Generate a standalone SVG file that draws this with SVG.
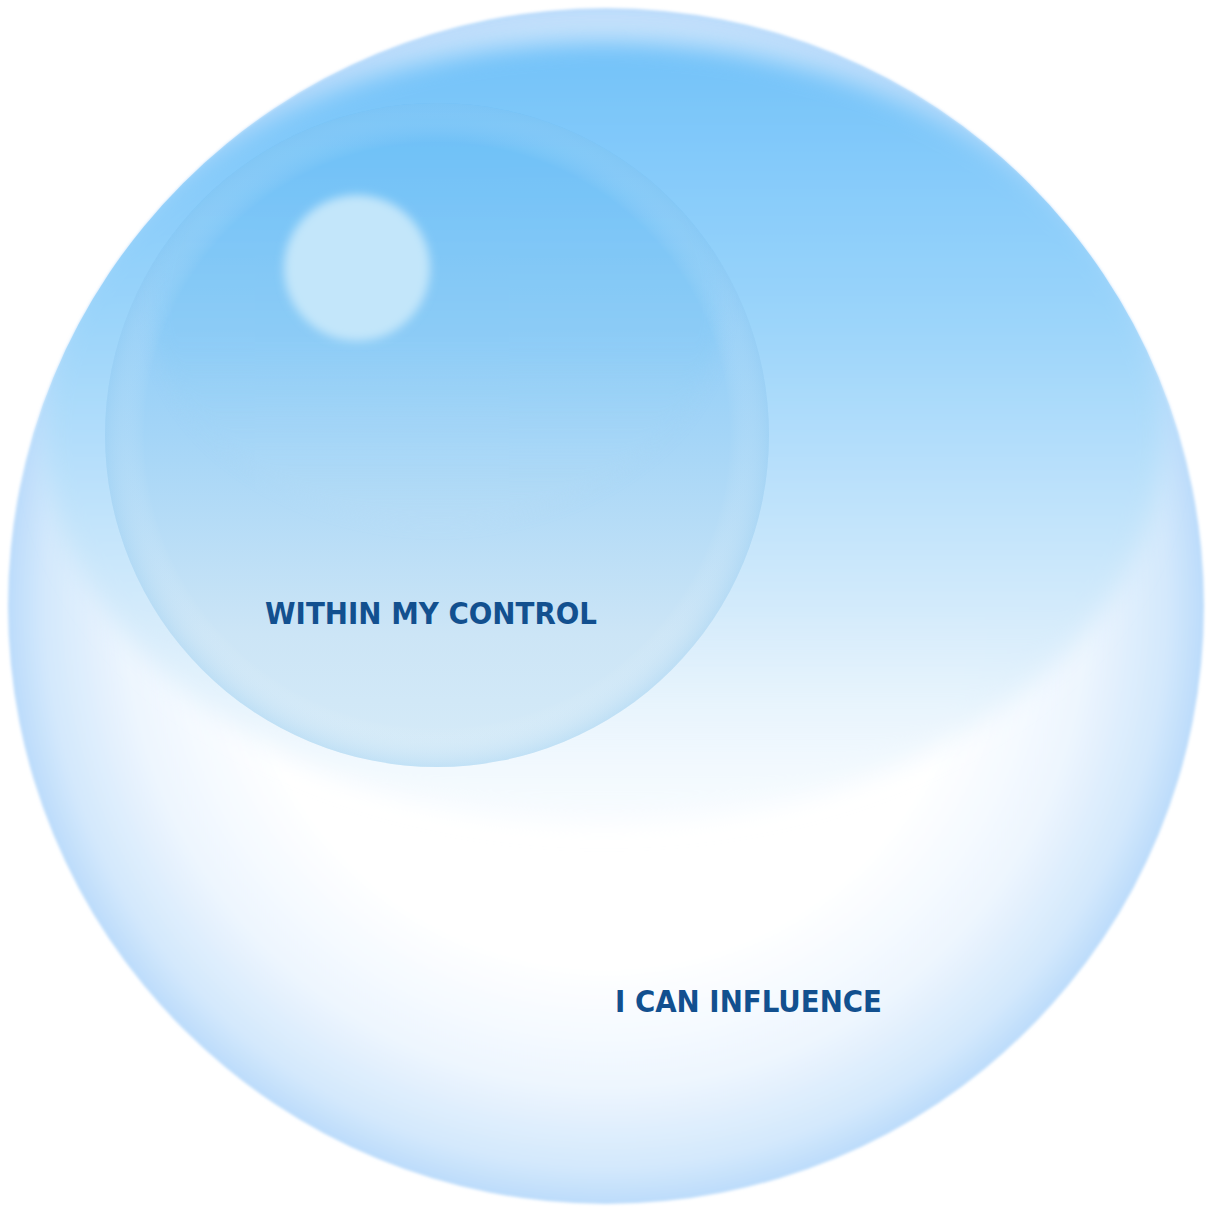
<svg xmlns="http://www.w3.org/2000/svg" width="1207" height="1208" viewBox="0 0 1207 1208">
  <defs>
    <radialGradient id="outerFill" cx="0.5" cy="0.5" r="0.5">
      <stop offset="0" stop-color="#ffffff"/>
      <stop offset="0.6" stop-color="#ffffff"/>
      <stop offset="0.8" stop-color="#eef6fe"/>
      <stop offset="0.94" stop-color="#d3e8fc"/>
      <stop offset="1" stop-color="#bcdcfb"/>
    </radialGradient>
    <linearGradient id="outerGlare" x1="0" y1="0" x2="0" y2="1">
      <stop offset="0" stop-color="#72c2f9"/>
      <stop offset="0.35" stop-color="#9ad4fa"/>
      <stop offset="0.72" stop-color="#d2eafb"/>
      <stop offset="1" stop-color="#f2f9fe" stop-opacity="0.5"/>
    </linearGradient>
    <linearGradient id="innerFill" x1="0" y1="0" x2="0" y2="1">
      <stop offset="0" stop-color="#6cbff8"/>
      <stop offset="0.5" stop-color="#a4d5f7"/>
      <stop offset="0.8" stop-color="#cce5f6"/>
      <stop offset="1" stop-color="#d6ebf8"/>
    </linearGradient>
    <radialGradient id="innerRim" cx="0.5" cy="0.5" r="0.5">
      <stop offset="0.88" stop-color="#ffffff" stop-opacity="0"/>
      <stop offset="1" stop-color="#9ccff2" stop-opacity="0.35"/>
    </radialGradient>
    <linearGradient id="innerGlare" x1="0" y1="0" x2="0" y2="1">
      <stop offset="0" stop-color="#66bdf8"/>
      <stop offset="0.6" stop-color="#8acbf6"/>
      <stop offset="1" stop-color="#bfe0f6" stop-opacity="0.3"/>
    </linearGradient>
    <filter id="blur8" x="-10%" y="-10%" width="120%" height="120%">
      <feGaussianBlur stdDeviation="12"/>
    </filter>
    <filter id="blur6" x="-10%" y="-10%" width="120%" height="120%">
      <feGaussianBlur stdDeviation="8"/>
    </filter>
    <filter id="blur4" x="-20%" y="-20%" width="140%" height="140%">
      <feGaussianBlur stdDeviation="5"/>
    </filter>
    <filter id="blur2" x="-5%" y="-5%" width="110%" height="110%">
      <feGaussianBlur stdDeviation="1.5"/>
    </filter>
    <clipPath id="outerClip">
      <circle cx="606" cy="606" r="598"/>
    </clipPath>
    <clipPath id="innerClip">
      <circle cx="437" cy="435" r="332"/>
    </clipPath>
  </defs>
  <style>
    .label { font-family: "DejaVu Sans", Verdana, sans-serif; font-weight: bold; fill: #12508f; }
  </style>
  <rect width="1207" height="1208" fill="#ffffff"/>

  <g id="outer-circle">
    <circle cx="606" cy="606" r="598" fill="url(#outerFill)" filter="url(#blur2)"/>
    <g clip-path="url(#outerClip)">
      <ellipse cx="604" cy="432" rx="562" ry="392" fill="url(#outerGlare)" filter="url(#blur8)"/>
    </g>
  </g>

  <g id="inner-circle">
    <circle cx="437" cy="435" r="332" fill="url(#innerFill)"/>
    <g clip-path="url(#innerClip)">
      <ellipse cx="437" cy="300" rx="285" ry="225" fill="url(#innerGlare)" opacity="0.6" filter="url(#blur6)"/>
    </g>
    <circle cx="437" cy="435" r="332" fill="url(#innerRim)"/>
    <circle cx="357" cy="268" r="73" fill="#c3e6fa" filter="url(#blur4)"/>
  </g>

  <g id="connectors"/>

  <g id="labels">
    <text id="label-control" class="label" x="265" y="624" font-size="30" textLength="332" lengthAdjust="spacingAndGlyphs">WITHIN MY CONTROL</text>
    <text id="label-influence" class="label" x="615" y="1012" font-size="30" textLength="267" lengthAdjust="spacingAndGlyphs">I CAN INFLUENCE</text>
  </g>
</svg>
